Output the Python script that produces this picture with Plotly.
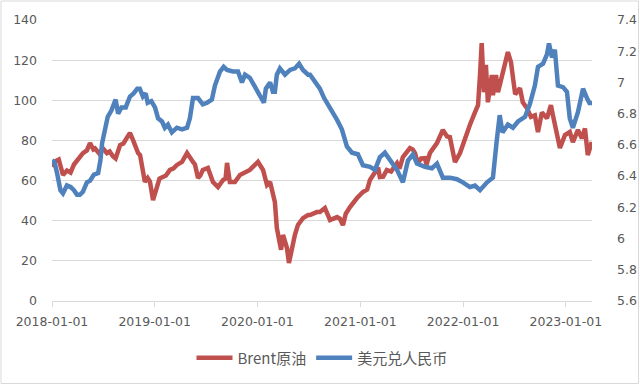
import plotly.graph_objects as go

# ---------------- data ----------------
brent_dates = [
    "2018-01-01","2018-01-12","2018-01-25","2018-02-09","2018-02-23","2018-03-08","2018-03-20","2018-03-31",
    "2018-04-10","2018-04-21","2018-05-05","2018-05-16","2018-05-28","2018-06-03","2018-06-18","2018-07-01",
    "2018-07-15","2018-07-25","2018-08-06","2018-08-15","2018-08-31","2018-09-12","2018-09-25","2018-10-05",
    "2018-10-15","2018-10-25","2018-11-03","2018-11-10","2018-11-17","2018-11-27","2018-12-07","2018-12-15",
    "2018-12-26","2019-01-09","2019-01-18","2019-01-30","2019-02-10","2019-02-24","2019-03-08","2019-03-21",
    "2019-04-08","2019-04-26","2019-05-06","2019-05-17","2019-05-24","2019-06-04","2019-06-12","2019-06-21",
    "2019-07-09","2019-07-18","2019-07-27","2019-08-14","2019-09-01","2019-09-10","2019-09-15","2019-09-25",
    "2019-10-13","2019-10-31","2019-11-18","2019-12-05","2019-12-23","2020-01-03","2020-01-21","2020-02-04",
    "2020-02-15","2020-02-25","2020-03-03","2020-03-10","2020-03-21","2020-03-25","2020-04-01","2020-04-08",
    "2020-04-15","2020-04-22","2020-04-27","2020-05-03","2020-05-13","2020-05-24","2020-06-11","2020-06-29",
    "2020-07-06","2020-07-30","2020-08-10","2020-08-28","2020-09-04","2020-09-15","2020-10-10","2020-10-20",
    "2020-10-31","2020-11-10","2020-11-25","2020-12-08","2020-12-20","2021-01-10","2021-01-25","2021-02-04",
    "2021-02-22","2021-03-05","2021-03-11","2021-03-23","2021-04-05","2021-04-20","2021-05-11","2021-05-20",
    "2021-06-01","2021-06-26","2021-07-06","2021-07-14","2021-07-24","2021-08-05","2021-08-18","2021-08-24",
    "2021-09-05","2021-09-30","2021-10-21","2021-11-05","2021-11-15","2021-11-26","2021-12-03","2021-12-21",
    "2022-01-07","2022-01-25","2022-02-12","2022-02-23","2022-03-02","2022-03-08","2022-03-16","2022-03-23",
    "2022-03-30","2022-04-13","2022-04-17","2022-04-28","2022-05-05","2022-05-19","2022-05-30","2022-06-09",
    "2022-06-20","2022-06-27","2022-07-05","2022-07-11","2022-07-22","2022-08-01","2022-08-16","2022-08-30",
    "2022-09-13","2022-09-24","2022-10-08","2022-10-26","2022-11-09","2022-11-16","2022-11-30","2022-12-11",
    "2022-12-29","2023-01-15","2023-01-26","2023-02-13","2023-02-27","2023-03-10","2023-03-20","2023-04-03",
]
brent_values = [
    66.9,69.5,70.5,62.8,65.0,64.0,68.0,70.0,
    71.0,73.7,75.0,78.7,75.5,76.0,73.5,76.0,
    73.7,74.5,72.0,71.0,77.7,78.5,81.5,83.7,
    80.5,76.5,73.7,72.7,66.3,59.3,61.3,59.5,
    50.3,57.8,61.0,61.8,62.5,65.3,66.0,67.8,
    69.3,73.7,71.2,69.3,68.0,61.3,62.5,65.3,
    66.3,62.5,59.3,56.8,60.3,61.0,68.8,59.3,
    59.3,62.8,63.8,65.3,67.8,69.3,65.3,57.8,
    59.3,52.8,49.3,36.4,27.9,25.5,32.9,30.0,
    26.4,18.9,22.0,27.9,32.9,37.9,41.3,42.8,
    42.8,44.3,44.3,46.3,44.0,40.3,41.8,41.0,
    37.8,43.5,46.8,49.5,51.3,54.3,55.5,60.3,
    63.8,66.5,61.8,62.0,65.3,64.5,68.7,66.0,
    71.7,76.2,75.5,73.7,68.7,71.0,71.2,68.0,
    73.7,78.7,85.2,82.0,81.7,72.5,69.2,73.7,
    81.0,87.7,94.0,97.6,112.6,128.5,104.0,117.6,
    99.0,112.6,102.6,112.6,104.0,112.6,117.6,124.0,
    119.0,109.0,103.0,104.0,106.0,99.0,96.0,91.7,
    92.5,84.2,94.0,91.0,97.6,92.6,82.7,76.2,
    82.7,84.2,79.2,85.2,81.0,86.0,72.7,79.2,
]

fx_dates = [
    "2018-01-01","2018-01-10","2018-01-20","2018-01-31","2018-02-09","2018-02-23","2018-03-08","2018-03-20",
    "2018-03-31","2018-04-10","2018-04-21","2018-05-05","2018-05-16","2018-05-30","2018-06-14","2018-06-22",
    "2018-06-28","2018-07-08","2018-07-18","2018-07-31","2018-08-15","2018-08-24","2018-09-05","2018-09-20",
    "2018-10-05","2018-10-18","2018-10-31","2018-11-09","2018-11-20","2018-11-30","2018-12-07","2018-12-20",
    "2019-01-02","2019-01-13","2019-01-27","2019-02-06","2019-02-17","2019-03-03","2019-03-21","2019-04-08",
    "2019-04-26","2019-05-06","2019-05-17","2019-06-04","2019-06-21","2019-07-06","2019-07-23","2019-08-03",
    "2019-08-21","2019-09-03","2019-09-15","2019-10-06","2019-10-24","2019-11-07","2019-11-18","2019-12-05",
    "2019-12-23","2020-01-03","2020-01-17","2020-01-24","2020-01-31","2020-02-15","2020-02-25","2020-03-03",
    "2020-03-10","2020-03-21","2020-04-08","2020-04-26","2020-05-13","2020-05-28","2020-06-11","2020-06-29",
    "2020-07-06","2020-07-23","2020-08-10","2020-08-25","2020-09-04","2020-09-22","2020-10-10","2020-10-27",
    "2020-11-14","2020-12-02","2020-12-23","2021-01-10","2021-02-04","2021-02-22","2021-03-11","2021-03-29",
    "2021-04-16","2021-05-11","2021-06-01","2021-06-19","2021-07-07","2021-07-21","2021-08-18","2021-09-12",
    "2021-09-30","2021-10-21","2021-11-15","2021-12-10","2021-12-31","2022-01-25","2022-02-12","2022-03-02",
    "2022-03-27","2022-04-17","2022-04-30","2022-05-11","2022-05-21","2022-06-09","2022-06-27","2022-07-15",
    "2022-08-09","2022-08-26","2022-09-13","2022-09-24","2022-10-12","2022-10-26","2022-11-02","2022-11-13",
    "2022-11-23","2022-12-04","2022-12-22","2023-01-05","2023-01-15","2023-01-26","2023-02-13","2023-03-03",
    "2023-03-17","2023-03-28","2023-04-03",
]
fx_values = [
    6.50,6.49,6.41,6.31,6.29,6.34,6.33,6.31,
    6.28,6.28,6.30,6.36,6.37,6.41,6.42,6.50,
    6.61,6.69,6.78,6.82,6.89,6.80,6.84,6.84,
    6.91,6.93,6.96,6.96,6.91,6.93,6.87,6.88,
    6.84,6.77,6.75,6.71,6.73,6.68,6.71,6.70,
    6.71,6.77,6.90,6.90,6.86,6.87,6.89,6.98,
    7.07,7.10,7.08,7.07,7.07,7.00,7.05,7.03,
    6.97,6.94,6.90,6.87,6.96,7.00,6.94,6.94,
    7.05,7.09,7.05,7.08,7.09,7.12,7.08,7.05,
    7.05,7.00,6.96,6.90,6.87,6.82,6.76,6.70,
    6.59,6.55,6.54,6.47,6.46,6.44,6.52,6.55,
    6.50,6.44,6.36,6.50,6.54,6.48,6.46,6.45,
    6.48,6.39,6.39,6.38,6.36,6.33,6.34,6.31,
    6.36,6.39,6.62,6.79,6.68,6.73,6.71,6.75,
    6.78,6.86,6.98,7.10,7.12,7.18,7.25,7.16,
    7.21,6.98,6.97,6.94,6.77,6.71,6.81,6.96,
    6.90,6.86,6.88,
]

year_ticks = ["2018-01-01", "2019-01-01", "2020-01-01", "2021-01-01", "2022-01-01", "2023-01-01"]
left_ticks = [0, 20, 40, 60, 80, 100, 120, 140]
right_ticks = [5.6, 5.8, 6.0, 6.2, 6.4, 6.6, 6.8, 7.0, 7.2, 7.4]
right_tick_text = ["5.6", "5.8", "6", "6.2", "6.4", "6.6", "6.8", "7", "7.2", "7.4"]

# ---------------- figure ----------------
RED = "#C0504D"
BLUE = "#4F81BD"
GRID = "#D9D9D9"
TXT = "#595959"
FONT = "DejaVu Sans, Noto Sans CJK SC, sans-serif"

fig = go.Figure()
fig.add_trace(go.Scatter(x=brent_dates, y=brent_values, name="Brent原油", mode="lines",
                         line=dict(color=RED, width=4.5), yaxis="y"))
fig.add_trace(go.Scatter(x=fx_dates, y=fx_values, name="美元兑人民币", mode="lines",
                         line=dict(color=BLUE, width=4.5), yaxis="y2"))

W, H = 640, 385
ml, mr, mt, mb = 52, 48, 20, 84
pw, ph = W - ml - mr, H - mt - mb

def px2paper_x(px):
    return (px - ml) / pw

def px2paper_y(py):
    return (H - mb - py) / ph

fig.update_layout(
    width=W, height=H,
    margin=dict(l=ml, r=mr, t=mt, b=mb, pad=0, autoexpand=False),
    paper_bgcolor="white", plot_bgcolor="white",
    font=dict(family=FONT, size=12.5, color=TXT),
    showlegend=True,
    legend=dict(orientation="h", x=0.5, xanchor="center", y=px2paper_y(358), yanchor="middle",
                font=dict(family="Noto Sans CJK SC, sans-serif", size=15, color=TXT),
                itemwidth=36, tracegroupgap=0, bgcolor="rgba(0,0,0,0)"),
    hovermode=False,
    xaxis=dict(type="date", range=["2018-01-01", "2023-04-04"],
               tickvals=year_ticks, ticktext=year_ticks, automargin=False,
               showgrid=False, zeroline=False,
               showline=False,
               ticks="outside", ticklen=5, tickcolor=GRID, tickwidth=1,
               tickfont=dict(size=12.5, color=TXT), ticklabelstandoff=4),
    yaxis=dict(range=[0, 140], tickvals=left_ticks, showgrid=True, gridcolor=GRID, gridwidth=1,
               zeroline=True, zerolinecolor=GRID, zerolinewidth=1, automargin=False,
               showline=False, ticks="", tickfont=dict(size=12.5, color=TXT),
               ticklabelstandoff=14),
    yaxis2=dict(range=[5.6, 7.4], tickvals=right_ticks, ticktext=right_tick_text,
                overlaying="y", side="right", showgrid=False, zeroline=False, automargin=False,
                showline=False, ticks="", tickfont=dict(size=12.5, color=TXT),
                ticklabelstandoff=24),
    shapes=[dict(type="rect", xref="paper", yref="paper",
                 x0=px2paper_x(1), x1=px2paper_x(638.5),
                 y0=px2paper_y(383.5), y1=px2paper_y(1),
                 line=dict(color=GRID, width=1), fillcolor="rgba(0,0,0,0)", layer="below")],
)

fig.write_html("out.html", config={"displayModeBar": False},
               post_script="document.body.style.margin='0px';document.body.style.padding='0px';")
